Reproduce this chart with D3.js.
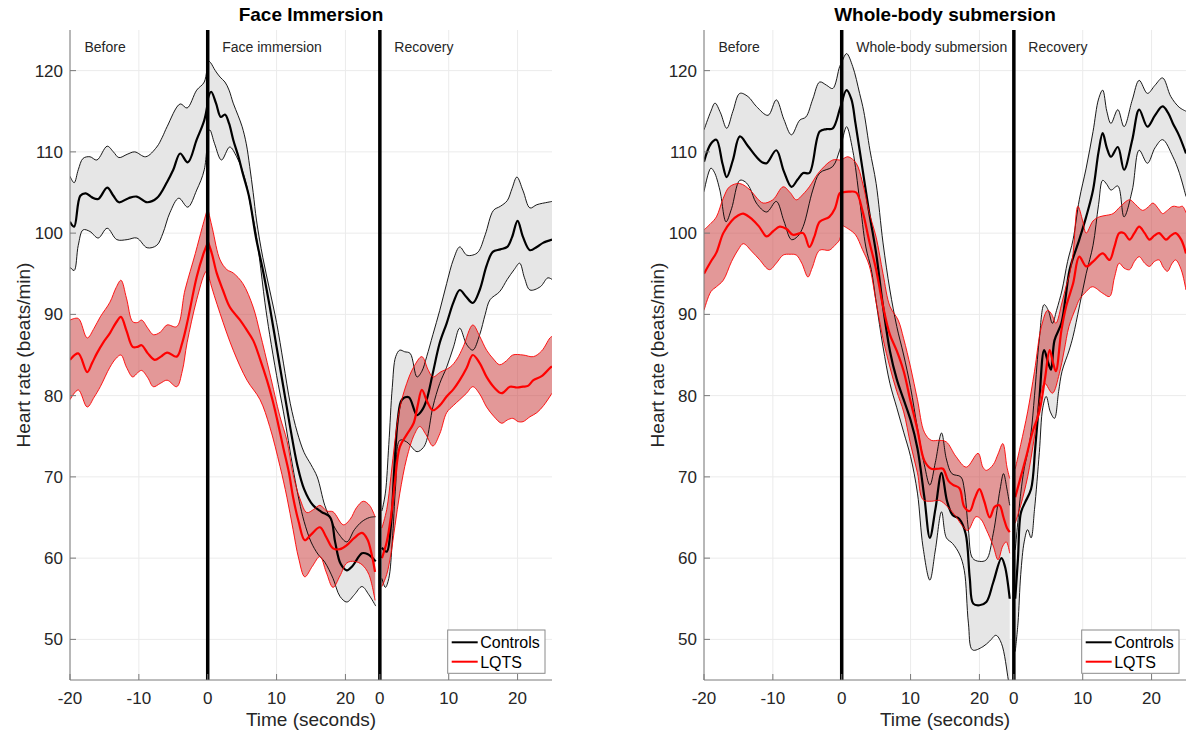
<!DOCTYPE html>
<html>
<head>
<meta charset="utf-8">
<script src="https://cdn.jsdelivr.net/npm/d3@7"></script>
<style>
  body { margin: 0; background: #fff; }
  svg text { font-family: "Liberation Sans", Arial, Helvetica, sans-serif; }
</style>
</head>
<body>
<svg id="chart" width="1189" height="731"></svg>
<script>
// Time runs on one continuous axis: -20..0 before, 0..25 in water, 25..50 recovery.
// Every series = [before, immersion, recovery] segments of [t, bpm] points.
var xTickPos = [-20, -10, 0, 10, 20, 25, 35, 45];
var xTickLabels = ["-20", "-10", "0", "10", "20", "0", "10", "20"];
var yTicks = [50, 60, 70, 80, 90, 100, 110, 120];
var phaseStarts = [-20, 0, 25];
var phaseLines = [0, 25];
var groupNames = ["Controls", "LQTS"];
var facePhases = ["Before", "Face immersion", "Recovery"];
var bodyPhases = ["Before", "Whole-body submersion", "Recovery"];

// ---- Face immersion, controls ----
var faceCtrlMean = [
  [[-20,101.4],[-19.4,100.8],[-18.5,104.6],[-17.7,104.9],[-16.8,104.4],[-15.9,104.2],[-14.6,105.6],[-13.7,104.6],[-12.9,103.8],[-11.5,104.3],[-10.3,104.5],[-8.8,103.8],[-7.4,104.3],[-5.9,106.3],[-5,107.8],[-4,109.8],[-2.9,108.7],[-1.6,111.5],[-0.5,113.9],[0,116]],
  [[0,116.5],[0.5,117.4],[1.2,116],[1.9,114.3],[2.5,114.6],[3.1,113.5],[3.7,111.5],[4.5,109.3],[5.1,107.3],[6,104.5],[7,99.5],[8,95.5],[9,91],[10,86],[11,81],[12,76],[13,71.5],[14,68.5],[15.3,66.5],[16.5,65.7],[17.8,65],[18.5,62],[19.3,59.3],[20.2,58.5],[21,59],[22.4,60.6],[23.2,60.5],[24.4,59.6]],
  [[25.3,61.3],[26,60.8],[26.6,64],[27.1,71],[27.6,77],[28.2,79.5],[29.2,79.8],[30.4,77.6],[31.2,78.3],[31.8,79.5],[32.7,82.8],[33.7,86.5],[34.7,88.9],[35.7,91.5],[36.6,93],[37.5,92.2],[38.5,91.4],[39.5,93],[40.5,96],[41.4,97.7],[42.5,98],[43.5,98.3],[44.2,99.5],[45,101.5],[45.8,99.5],[46.8,97.9],[47.8,98.3],[48.7,98.8],[50,99.2]]
];
var faceCtrlHi = [
  [[-20,107],[-19.4,106.2],[-18.8,107.8],[-18.1,109.2],[-17.1,109.4],[-16.1,109],[-14.6,110.7],[-13.7,110],[-12.9,109.3],[-11.7,109.7],[-10.6,110],[-9,109.4],[-7.4,110.6],[-6.6,111.8],[-5.9,113.1],[-4,115.9],[-3,115.4],[-1.6,117.6],[-0.5,118.6],[0,121.3]],
  [[0,121.3],[0.4,121],[1.1,120],[1.8,119.2],[2.5,118.6],[3.1,117.6],[3.7,116],[4.4,114.5],[5,113.1],[5.6,111],[6.1,108.2],[6.6,105],[7.1,101.5],[8,97],[9,93],[10,89],[11,84],[12,79],[13,75.5],[14,73],[15,71.5],[15.9,70],[17,66.5],[18,64.5],[19,63],[20.2,62],[21.3,63.5],[22.4,64.5],[23.5,65],[24.4,65.1]],
  [[25.3,65.8],[25.8,68],[26.3,74],[26.8,81],[27.3,84.8],[27.9,85.6],[28.6,85.4],[29.4,85.2],[30.4,82.3],[31.1,83],[31.8,84.8],[32.7,87.5],[33.7,90.5],[34.7,93.8],[35.7,96.8],[36.6,98.3],[37.6,97.3],[38.5,97.3],[39.3,97.7],[40.3,99.8],[41.5,102.8],[42.5,103.3],[43.5,104],[44.2,105.5],[44.9,106.9],[45.8,105.2],[46.8,103.1],[47.8,103.5],[49.4,103.8],[50,103.9]]
];
var faceCtrlLo = [
  [[-20,95.8],[-19.4,95.4],[-18.8,98.5],[-18.1,100.4],[-17.1,100.2],[-15.9,99.4],[-14.6,100.6],[-13.2,99.2],[-11.7,99.2],[-10.3,99.4],[-8.8,98.2],[-7.4,98.5],[-6.5,100],[-5.5,102.5],[-4.2,104.3],[-2.9,103.2],[-1.6,105.3],[-0.5,107.8],[0,112.3]],
  [[0,112.3],[0.3,112.7],[1,111],[2,109],[3.2,110.6],[4.2,109.4],[5,107.8],[5.7,105.7],[6.3,103],[6.9,100.5],[7.5,97],[8.3,91.5],[9,87.5],[10,82.5],[11,78],[11.7,74.5],[12.5,70.5],[13.3,67],[14,64.5],[15,62],[16,60.5],[17,59.5],[18.2,57.5],[19.2,55.3],[20.2,54.6],[21.3,55.5],[22.4,56.5],[23.4,55.5],[24.4,54.1]],
  [[25.3,57.5],[25.8,56.4],[26.3,57.5],[26.8,62],[27.3,69],[27.9,74.5],[28.9,74.3],[30.4,73.1],[31.3,73.6],[31.8,74.5],[32.7,78.6],[33.7,81.5],[34.7,83.5],[35.7,86],[36.6,88.3],[37.6,86.3],[38.5,85.6],[39.5,87.5],[40.3,90],[41,91.8],[42.4,92.8],[43.5,94.3],[44.5,95.5],[45.3,96.3],[46,94.5],[46.8,93],[48.3,93.4],[49.4,94.5],[50,94.3]]
];

// ---- Face immersion, LQTS ----
var faceLqtsMean = [
  [[-20,84.4],[-18.8,85.2],[-17.5,82.9],[-16.8,84],[-16.1,85.2],[-15.2,86.5],[-14.2,87.7],[-13.3,89],[-12.6,89.7],[-11.8,88],[-10.9,86],[-10.2,86],[-9.6,86.2],[-8.7,85.2],[-7.7,84.4],[-6.8,84.8],[-5.9,85.3],[-4.5,84.8],[-3.7,86.5],[-3,88.9],[-1.6,94.6],[-0.6,97.5],[0,98.8]],
  [[0,99],[0.6,97.5],[1.3,95.1],[2.2,93],[3.2,90.9],[4.7,89.3],[5.5,88.3],[6.6,86.8],[7.6,84.5],[8.6,81.9],[9.4,79.5],[10.1,77],[11,73.5],[11.8,70.5],[12.4,67.5],[13.2,64.5],[14.1,62.2],[15,62.9],[16.3,63.8],[17.2,62.6],[18.2,61.2],[19.2,61.1],[20.2,61.6],[21.3,62.5],[22.4,63.1],[23.2,62.3],[23.8,60.5],[24.3,58.3]],
  [[25.3,60],[26,62],[26.6,65],[27.2,69.5],[27.9,73.7],[28.9,75.2],[29.9,76.6],[30.5,78.8],[31.1,80.7],[31.9,79.2],[32.7,78.2],[33.7,78.8],[34.7,79.9],[35.7,80.8],[36.6,81.9],[37.6,83.4],[38.5,85],[39.5,84],[40.5,82.3],[41.6,81],[42.7,80.3],[43.9,81.1],[44.9,81],[45.8,81.1],[46.5,81.2],[47.3,81.9],[48.5,82.4],[49.7,83.4],[50,83.6]]
];
var faceLqtsHi = [
  [[-20,89.3],[-18.8,89.5],[-17.5,87.1],[-16.5,88.3],[-15.6,89.7],[-14.2,91.5],[-13.3,93.3],[-12.6,94.2],[-11.8,92],[-10.9,89.1],[-10.2,89],[-9.6,89.3],[-8.7,88.3],[-7.9,87.5],[-6.9,87.8],[-5.9,88.7],[-4.5,88.5],[-3.3,93],[-1.8,97.5],[-0.8,100.7],[0,103.1]],
  [[0,103.1],[0.7,100.5],[1.8,96.7],[2.8,95.5],[3.7,95.1],[5.1,93.8],[6.6,90.9],[7.6,87.7],[9,82.8],[10.5,77.4],[11.5,74.5],[12.4,70.3],[13.4,67.3],[14.4,65.6],[15.4,66],[16.3,66.5],[17.3,65.8],[18.2,65.7],[19.7,64.1],[20.7,64.8],[21.6,66.2],[22.6,67],[23.5,66.5],[24.3,65.1]],
  [[25.3,63.7],[26,66],[26.6,70],[27.2,74.5],[27.9,78.5],[28.9,81.5],[29.9,83.5],[31.1,84.8],[32,83.2],[32.7,82.3],[33.8,82.9],[35.2,83.5],[36.2,84.5],[37.1,86],[38.5,88.7],[39.5,87.3],[40.5,85.6],[41.5,84.5],[42.4,83.8],[43.4,84.3],[44.3,85],[45.8,85],[47.3,84.8],[48.5,85.5],[49.7,87.1],[50,87.3]]
];
var faceLqtsLo = [
  [[-20,79.5],[-18.8,80.7],[-17.5,78.6],[-16.5,79.8],[-15.6,81.1],[-14.2,83.5],[-13.3,84.6],[-12.6,85],[-11.8,83.5],[-10.9,82.3],[-10.2,82.8],[-9.6,83.1],[-8.7,82.2],[-7.9,81.1],[-6.9,81.5],[-5.9,81.9],[-4.5,81.1],[-3.7,83],[-3,86.5],[-1.6,91.8],[-0.4,95.1],[0,95.5]],
  [[0,95.5],[0.3,94.2],[1.8,90.1],[3.7,85.6],[5.7,81.9],[7.6,79.5],[9,76.2],[10.5,71.3],[11.5,67.5],[12.4,63.5],[13.2,60],[14.1,57.7],[15.2,59],[16.3,60.2],[17.2,58.3],[18.2,56.4],[19.2,57.8],[20.2,59.4],[21.3,59.6],[22.4,59.2],[23.4,58],[24.3,54.8]],
  [[25.3,56.5],[26,58],[26.6,60.5],[27.2,64],[27.9,68],[28.9,72.3],[30,75.2],[30.8,76.2],[31.7,75.2],[32.7,73.8],[33.7,75.3],[34.7,77.9],[35.7,78.8],[36.6,79.5],[37.6,80.3],[38.5,81.1],[39.5,80.2],[40.5,78.6],[41.6,77.4],[42.7,76.6],[43.5,77],[44.3,77.2],[45.1,76.8],[45.8,76.8],[46.8,77.4],[47.8,77.9],[48.8,78.8],[50,80.3]]
];

// ---- Whole-body submersion, controls ----
var bodyCtrlMean = [
  [[-20,108.8],[-19,111],[-18.2,111.5],[-17.3,108.5],[-16.7,106.9],[-15.8,109],[-14.8,111.9],[-13.6,110.7],[-12.4,109.4],[-11.5,108.7],[-10.9,108.6],[-9.5,110.2],[-8.4,107.6],[-7.3,105.7],[-6.4,106.6],[-5.6,107.4],[-4.7,107.4],[-3.2,112.5],[-2.2,112.8],[-1.3,112.9],[-0.3,115.2],[0,116]],
  [[0,116],[0.7,117.6],[1.4,116.5],[2,113.5],[3,108],[4,102.5],[5,97.5],[6,91],[7,85.5],[8,82],[9,79.5],[10,77],[11,73.5],[12,67.5],[12.8,62.5],[13.6,66],[14.5,70.5],[15.3,67],[16.1,65.3],[17.1,64.8],[18,63],[18.6,57.5],[19.1,54.4],[20,54.2],[21,54.6],[22,57],[23.2,60],[23.7,59],[24.4,55]],
  [[25.2,55],[25.6,60],[26,65.5],[26.6,66.8],[27.5,68.5],[28.1,73.5],[28.7,79.5],[29.4,85.6],[30,84],[30.4,83.2],[30.9,86.8],[31.9,88.9],[32.5,92],[33.1,95.5],[34.5,99.2],[35.5,102],[36.5,105.3],[37.3,110],[37.9,112.3],[38.5,110.5],[39.1,109.4],[40.1,110.6],[41,107.8],[42.2,111.5],[43.2,115.2],[44.4,113.1],[45.5,114.5],[46.6,115.6],[47.4,114.8],[48.1,113.5],[49,112],[50,109.8]]
];
var bodyCtrlHi = [
  [[-20,112.7],[-19,115],[-18.4,116],[-17.6,114.8],[-16.7,112.9],[-15.8,115],[-14.8,117.2],[-13.6,116.8],[-12.4,115.6],[-10.7,114.5],[-9.5,116.4],[-8.4,114],[-7.3,112.1],[-6.1,113.9],[-5.2,114.3],[-4.2,116.5],[-3.2,118.6],[-2.2,118.2],[-1.3,117.8],[-0.3,120.5],[0,121]],
  [[0,121],[0.7,122.1],[1.6,120.5],[2.6,117.2],[3.2,115],[4.1,110.2],[5,106.1],[6,98.8],[7,93],[8,88.5],[9,85],[10,81],[11,76],[12,71.5],[12.8,69],[13.6,71.8],[14.5,75.4],[15.2,72.2],[16,70.4],[17.3,70],[17.8,68.5],[18.4,63.5],[19,60],[20,59.6],[21,59.8],[22,63],[23,68.5],[23.5,70.4],[24,68.5],[24.4,66.5]],
  [[25.2,61],[26,68],[26.5,71],[27,73],[27.5,75.5],[28,80],[28.7,87],[29.4,91.2],[30,90.5],[30.6,88.9],[31.2,90.5],[32,93],[32.8,96.5],[33.6,99.2],[34.5,104.1],[35.5,108],[36.5,112.5],[37.3,116.5],[37.9,117.6],[38.5,115],[39.1,113.5],[40.1,115.2],[41,113.1],[42.2,116.4],[43.2,118.8],[44.4,117.2],[45.5,118.2],[46.6,119.1],[47.8,116.8],[49,115.5],[50,115]]
];
var bodyCtrlLo = [
  [[-20,105.1],[-19,108],[-18.5,107.5],[-17.7,105.3],[-16.8,101.4],[-16,103],[-14.8,106.5],[-14,106.3],[-13.3,105.5],[-12.4,103.7],[-10.9,102.6],[-9.5,103.9],[-8.4,101.5],[-7.3,99.2],[-6.4,99.6],[-5.6,100.8],[-4.2,105.3],[-3.2,107.4],[-1.3,108.2],[-0.3,110.2],[0,111]],
  [[0,111],[0.7,113.1],[1.6,110.2],[2.6,104.1],[3.5,98.3],[4.3,95.5],[5,91.5],[6,86],[7,81.5],[8,78.5],[9,75.5],[10,72.5],[11,68],[11.8,61.4],[12.8,57.3],[13.6,61],[14.5,65.7],[15.2,62.5],[16.1,61.8],[17.1,60.5],[17.8,58.5],[18.4,52],[19,48.7],[20.5,49.1],[21.5,49.8],[22.4,50.5],[23.2,49.5],[24.2,45],[24.4,44]],
  [[25.2,48.5],[25.6,52],[26,58],[26.5,62],[27,63.5],[27.5,62.5],[28,66],[28.7,73],[29.2,78.5],[29.7,79.9],[30.3,78],[30.9,77.2],[31.5,80.5],[32,83],[33,85.5],[33.6,87.3],[34.5,90.9],[35.5,95],[36.5,98.5],[37.3,103.5],[37.9,106.5],[38.5,106],[39.1,105.3],[40.1,105.8],[41,102],[42.2,105.3],[43.2,110.2],[44.4,108.6],[45.5,110.5],[46.6,111.5],[48.1,109.4],[49,107.5],[50,104.5]]
];

// ---- Whole-body submersion, LQTS ----
var bodyLqtsMean = [
  [[-20,95],[-19,96.5],[-18.2,97.6],[-17.2,100],[-16,101.5],[-15,102.2],[-14.3,102.4],[-13,101.7],[-12,100.8],[-10.9,99.6],[-10,100.2],[-9,100.8],[-8,100.5],[-7.1,99.8],[-5.6,100],[-4.7,98.3],[-4,99.5],[-3.2,101.4],[-1.8,102],[-1,103],[-0.3,104.9],[0,105]],
  [[0,105],[1,105.1],[2.1,105],[3,102.8],[4,99],[5,95.5],[6,91],[7,87.5],[8,85.5],[9,83],[10,79.3],[11,75.8],[12,72],[13,71],[14,71],[14.7,71],[15.5,69.5],[16.2,69],[17.1,68.6],[17.8,66.3],[18.6,65.8],[19.3,67.3],[20,68.5],[20.7,67],[21.5,65],[22.2,66.3],[22.9,66.5],[23.5,65],[24,63.7],[24.4,63.2]],
  [[25.2,67.5],[26,70],[26.8,72.5],[27.7,75.5],[28.7,78],[29.5,82],[30.2,85.6],[30.7,84],[31.1,83],[31.9,88],[32.6,91],[33.6,93.8],[34.5,97.1],[35.5,95.9],[36.5,96.5],[37.9,97.5],[38.9,96.7],[39.6,98.3],[40.3,100],[41,100],[41.8,99.2],[42.5,100],[43.2,100.8],[44,100],[44.7,99.2],[45.4,99.7],[46.1,100],[47.1,99.2],[47.8,99.7],[48.5,100],[49.3,99.2],[50,97.5]]
];
var bodyLqtsHi = [
  [[-20,100.4],[-19,101.2],[-18.2,102],[-17.2,104.3],[-16.3,105.7],[-14.8,106.1],[-13.3,105.3],[-12.3,104.3],[-11.4,103.7],[-10,104.1],[-8.5,105.7],[-7.5,105],[-6.6,104.1],[-5.6,104.8],[-4.7,105.7],[-3.2,107.6],[-1.3,109],[-0.3,109],[0,109]],
  [[0,109],[0.9,109.4],[2.1,108.6],[3,106.3],[4,102.5],[5,99.5],[6,95],[7,91],[8.2,89.3],[9,87],[10,83.5],[11,79.5],[12,75.5],[13,74.5],[14.2,74.5],[15.2,74.3],[16.6,72.5],[18.1,71.2],[19.8,72.9],[20.5,71.2],[21,70.8],[22,71.5],[22.7,72.8],[23.4,74.1],[24,71.2],[24.4,69.8]],
  [[25.2,71],[26,74],[27,78],[28,83],[29,88.5],[29.9,90.5],[30.5,90],[31.1,88.9],[32,91.5],[32.6,93.5],[33.1,95],[33.6,97.5],[34.3,103.3],[35,101.5],[35.5,100],[36.5,101.5],[37.4,102],[38.5,102.2],[39.4,102.4],[40.5,103.3],[41.8,104.1],[42.7,103.5],[43.7,102.8],[44.5,103.2],[45.2,103.7],[46,103],[46.6,102.4],[47.3,102.8],[48.1,103.3],[49,103.2],[49.5,103.3],[50,102.5]]
];
var bodyLqtsLo = [
  [[-20,90.5],[-19,92.8],[-18.2,93.4],[-17.2,94.2],[-16,96.5],[-15,98],[-14.3,98.7],[-13,97.7],[-12,96.8],[-10.5,95.5],[-9.5,96.3],[-8.5,97.3],[-7.5,97.4],[-6.6,97.3],[-5.8,96.3],[-4.9,94.6],[-4.3,95.7],[-3.2,97.9],[-1.8,97.9],[-1,98.5],[-0.3,99.2],[0,101]],
  [[0,101],[1,100.5],[2,99.8],[3,98],[4,96],[5,91.5],[6,87],[7,83.5],[8,80.5],[9,78],[10,74],[11,70.5],[11.8,67.2],[13,67],[14.2,67.1],[15.4,66.3],[16.6,65.1],[17.5,64],[18.3,63.4],[19.5,65.1],[20.2,64.8],[21,63.5],[22,61.5],[22.7,59.8],[23.4,61.5],[23.9,62],[24.4,60.6]],
  [[25.2,64.3],[26,66.5],[27,70],[28,75],[29,80.5],[29.5,81.5],[30.6,80.3],[31.6,82.7],[32.3,85.5],[33,88.5],[34,90.8],[34.5,91.8],[35.5,92.8],[36.4,93.4],[37.9,92.6],[38.9,92.2],[39.6,94.5],[40.3,96.3],[41,95.7],[41.8,95.5],[42.5,96.5],[43.2,97.1],[44,96.3],[44.7,95.9],[45.4,96.5],[46.1,96.7],[46.7,95.8],[47.3,95.3],[48,96.3],[48.5,96.7],[49.3,95.5],[50,93]]
];

var svgWidth = 1189;
var svgHeight = 731;
var plotTop = 30;
var plotBottom = 680;
var plotWidth = 482;

var panels = [
  { id: "face", left: 70, title: "Face Immersion", phases: facePhases,
    ctrl: [faceCtrlLo, faceCtrlMean, faceCtrlHi], lqts: [faceLqtsLo, faceLqtsMean, faceLqtsHi] },
  { id: "body", left: 704, title: "Whole-body submersion", phases: bodyPhases,
    ctrl: [bodyCtrlLo, bodyCtrlMean, bodyCtrlHi], lqts: [bodyLqtsLo, bodyLqtsMean, bodyLqtsHi] }
];

var svg = d3.select("#chart");
var ink = "#262626";

panels.forEach(function(p) {
  var x = d3.scaleLinear().domain([-20, 50]).range([p.left, p.left + plotWidth]);
  var y = d3.scaleLinear().domain([45, 125]).range([plotBottom, plotTop]);
  var g = svg.append("g");

  var line = d3.line()
    .x(function(d) { return x(d[0]); })
    .y(function(d) { return y(d[1]); })
    .curve(d3.curveCatmullRom.alpha(0.5));

  function bandPath(lo, hi) {
    var top = line(hi);
    var bottom = line(lo.slice().reverse());
    return top + "L" + bottom.slice(1) + "Z";
  }

  svg.append("clipPath").attr("id", "clip-" + p.id)
    .append("rect")
    .attr("x", p.left).attr("y", plotTop)
    .attr("width", plotWidth).attr("height", plotBottom - plotTop);

  // grid
  g.selectAll(".hgrid").data(yTicks).enter().append("line")
    .attr("x1", p.left).attr("x2", p.left + plotWidth)
    .attr("y1", function(d) { return y(d); }).attr("y2", function(d) { return y(d); })
    .attr("stroke", "#ebebeb").attr("stroke-width", 1);
  g.selectAll(".vgrid").data(xTickPos).enter().append("line")
    .attr("x1", function(d) { return x(d); }).attr("x2", function(d) { return x(d); })
    .attr("y1", plotTop).attr("y2", plotBottom)
    .attr("stroke", "#ebebeb").attr("stroke-width", 1);

  var data = g.append("g").attr("clip-path", "url(#clip-" + p.id + ")");

  // bands
  [0, 1, 2].forEach(function(s) {
    data.append("path").attr("d", bandPath(p.ctrl[0][s], p.ctrl[2][s]))
      .attr("fill", "#e6e6e6");
  });
  [0, 1, 2].forEach(function(s) {
    data.append("path").attr("d", bandPath(p.lqts[0][s], p.lqts[2][s]))
      .attr("fill", "#c83232").attr("fill-opacity", 0.5);
  });

  // lines: bounds thin, mean thick
  [[p.ctrl, "#000000"], [p.lqts, "#ff0000"]].forEach(function(grp) {
    grp[0].forEach(function(series, k) {
      series.forEach(function(seg) {
        data.append("path").attr("d", line(seg))
          .attr("fill", "none")
          .attr("stroke", grp[1])
          .attr("stroke-width", k === 1 ? 2.2 : 0.9)
          .attr("stroke-linejoin", "round");
      });
    });
  });

  // phase boundaries
  g.selectAll(".phase").data(phaseLines).enter().append("line")
    .attr("x1", function(d) { return x(d); }).attr("x2", function(d) { return x(d); })
    .attr("y1", plotTop).attr("y2", plotBottom)
    .attr("stroke", "#000").attr("stroke-width", 3.5);

  // axes (inward ticks, MATLAB style)
  var axisColor = "#7a7a7a";
  g.append("line").attr("x1", p.left).attr("x2", p.left)
    .attr("y1", plotTop).attr("y2", plotBottom).attr("stroke", axisColor);
  g.append("line").attr("x1", p.left).attr("x2", p.left + plotWidth)
    .attr("y1", plotBottom).attr("y2", plotBottom).attr("stroke", axisColor);
  g.selectAll(".ytick").data(yTicks).enter().append("line")
    .attr("x1", p.left).attr("x2", p.left + 6)
    .attr("y1", function(d) { return y(d); }).attr("y2", function(d) { return y(d); })
    .attr("stroke", axisColor);
  g.selectAll(".xtick").data(xTickPos).enter().append("line")
    .attr("x1", function(d) { return x(d); }).attr("x2", function(d) { return x(d); })
    .attr("y1", plotBottom).attr("y2", plotBottom - 6)
    .attr("stroke", axisColor);

  g.selectAll(".ylab").data(yTicks).enter().append("text")
    .attr("x", p.left - 7)
    .attr("y", function(d) { return y(d) + 6; })
    .attr("text-anchor", "end")
    .attr("font-size", 17).attr("fill", ink)
    .text(function(d) { return d; });
  g.selectAll(".xlab").data(xTickPos).enter().append("text")
    .attr("x", function(d) { return x(d); })
    .attr("y", 704)
    .attr("text-anchor", "middle")
    .attr("font-size", 17).attr("fill", ink)
    .text(function(d, i) { return xTickLabels[i]; });

  // phase names
  g.selectAll(".pname").data(phaseStarts).enter().append("text")
    .attr("x", function(d) { return x(d) + 14.5; })
    .attr("y", 52)
    .attr("font-size", 14).attr("fill", ink)
    .text(function(d, i) { return p.phases[i]; });

  // titles and axis labels
  var cx = p.left + plotWidth / 2;
  g.append("text").attr("x", cx).attr("y", 21)
    .attr("text-anchor", "middle").attr("font-size", 19).attr("font-weight", "bold")
    .attr("fill", "#000").text(p.title);
  g.append("text").attr("x", cx).attr("y", 726)
    .attr("text-anchor", "middle").attr("font-size", 19).attr("fill", ink)
    .text("Time (seconds)");
  g.append("text")
    .attr("transform", "translate(" + (p.left - 40) + "," + ((plotTop + plotBottom) / 2) + ") rotate(-90)")
    .attr("text-anchor", "middle").attr("font-size", 19).attr("fill", ink)
    .text("Heart rate (beats/min)");

  // legend
  var lx = p.left + plotWidth - 104.3, ly = 630;
  var legend = g.append("g");
  legend.append("rect").attr("x", lx).attr("y", ly).attr("width", 97.3).attr("height", 43.3)
    .attr("fill", "#fff").attr("stroke", "#8a8a8a").attr("stroke-width", 1);
  groupNames.forEach(function(name, i) {
    var yy = ly + 12.3 + i * 19.4;
    legend.append("line").attr("x1", lx + 4).attr("x2", lx + 30)
      .attr("y1", yy).attr("y2", yy)
      .attr("stroke", i === 0 ? "#000" : "#ff0000").attr("stroke-width", 2);
    legend.append("text").attr("x", lx + 32.5).attr("y", yy + 6)
      .attr("font-size", 16).attr("fill", "#000").text(name);
  });
});
</script>
</body>
</html>
